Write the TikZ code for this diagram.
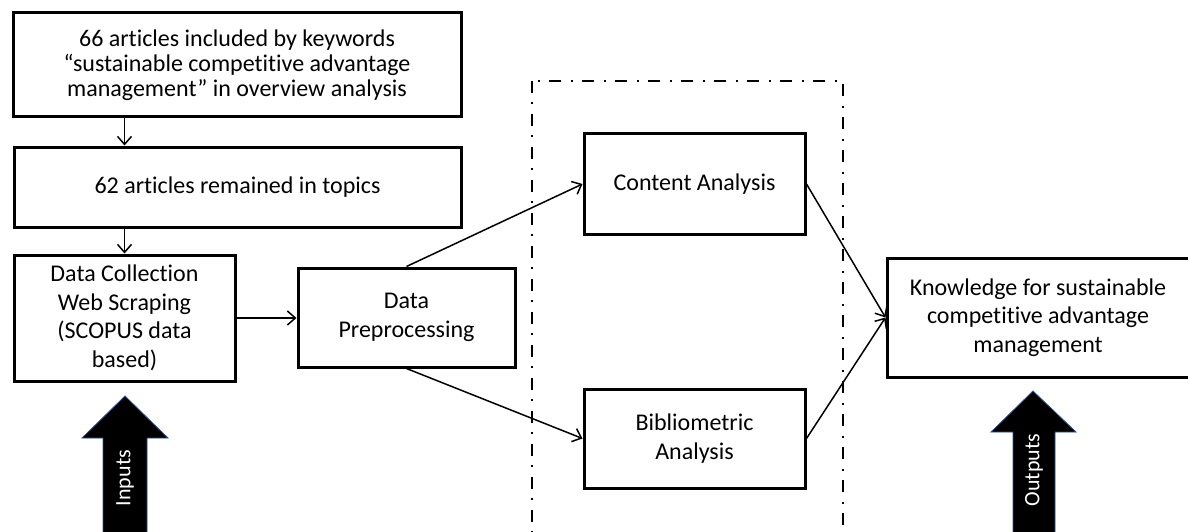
\documentclass[tikz,border=0pt]{standalone}
\usepackage{fontspec}
\setmainfont{Carlito}[Ligatures={NoCommon}]
\usetikzlibrary{arrows.meta}

\begin{document}
\begin{tikzpicture}[x=1pt, y=-1pt,
  box/.style={draw, line width=3pt, align=center, inner sep=0pt, font=\fontsize{24}{28.5}\selectfont},
  link/.style={->, line width=1.5pt},
  group/.style={line width=2.5pt, dash pattern=on 12pt off 9pt on 2pt off 10pt},
  blockarrow/.style={fill=black, draw={rgb,255:red,47;green,82;blue,143}, line width=0.8pt},
  >={Straight Barb[length=8pt,width=14pt]}]
  \useasboundingbox (0,0) rectangle (1188,532);

  \node[box, minimum width=448pt, minimum height=104pt, font=\fontsize{24}{25}\selectfont] (kw) at (237,65) {66 articles included by keywords\\“sustainable competitive advantage\\management” in overview analysis};
  \node[box, minimum width=447pt, minimum height=80pt] (topics) at (237.5,187) {62 articles remained in topics};
  \node[box, minimum width=221pt, minimum height=126pt] (collect) at (124.5,318) {Data Collection\\Web Scraping\\(SCOPUS data\\based)};
  \node[box, minimum width=217pt, minimum height=99pt] (prep) at (406.5,317.5) {Data\\Preprocessing};

  \draw[group] (532,81) rectangle (843,560);
  \node[box, minimum width=221pt, minimum height=100pt] (content) at (694.5,184) {Content Analysis};
  \node[box, minimum width=221pt, minimum height=99pt] (biblio) at (694.5,438.5) {Bibliometric\\Analysis};

  \node[box, minimum width=302pt, minimum height=119pt] (know) at (1038,317.5) {Knowledge for sustainable\\competitive advantage\\management};

  \draw[link] (collect.north |- kw.south) -- (collect.north |- topics.north);
  \draw[link] (collect.north |- topics.south) -- (collect.north);
  \draw[link] (collect.east) -- (collect.east -| prep.west);
  \draw[link] (prep.north) -- (content.west);
  \draw[link] (prep.south) -- (biblio.west);
  \draw[link] (content.east) -- (know.west);
  \draw[link] (biblio.east) -- (know.west);

  % big arrows
  \filldraw[blockarrow] (103,545) -- (103,438) -- (82,438) -- (125,396) -- (168,438) -- (147,438) -- (147,545) -- cycle;
  \node[rotate=90, text=white, font=\fontsize{22}{26}\selectfont] (inputs) at (125,478) {Inputs};
  \filldraw[blockarrow] (1013,545) -- (1013,432) -- (991,432) -- (1033,391) -- (1076,432) -- (1055,432) -- (1055,545) -- cycle;
  \node[rotate=90, text=white, font=\fontsize{22}{26}\selectfont] (outputs) at (1034,470) {Outputs};

\end{tikzpicture}
\end{document}
